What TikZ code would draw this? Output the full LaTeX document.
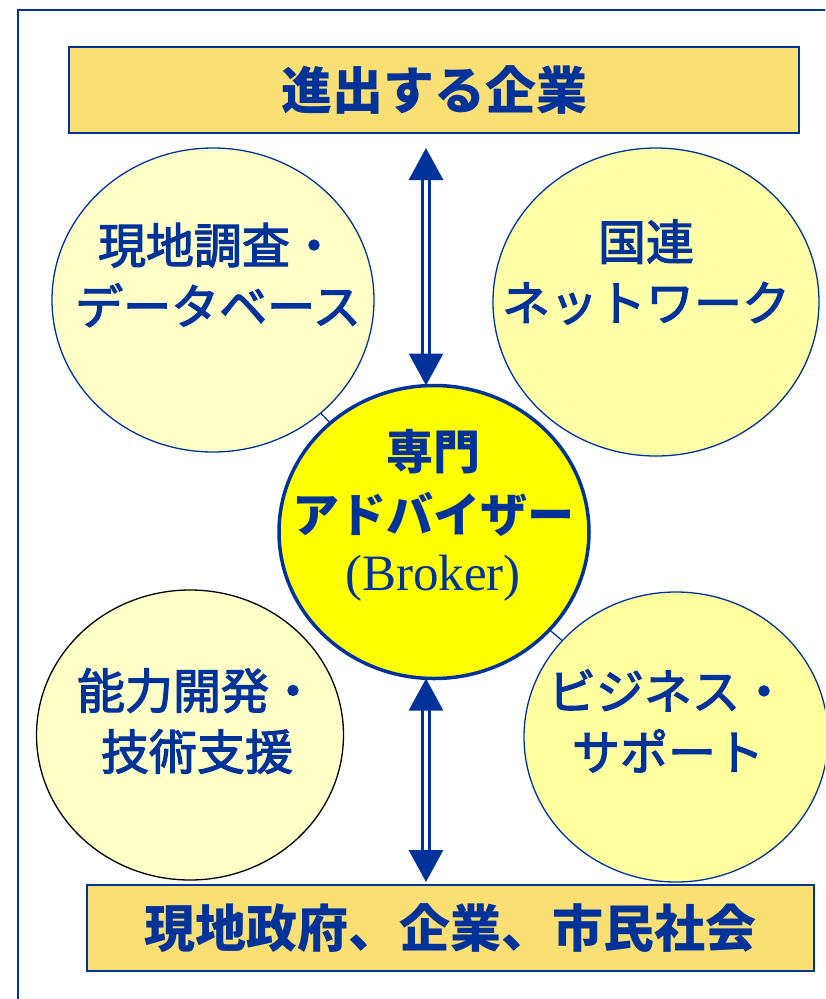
\documentclass[tikz,border=0pt]{standalone}
\usepackage{fontspec}
\setmainfont{Liberation Serif}
\newfontfamily\jp{Noto Sans CJK JP}
\newfontfamily\jpm[FakeBold=2.5]{Noto Sans CJK JP}
\usetikzlibrary{shapes.geometric,arrows.meta,calc}
\definecolor{nblue}{RGB}{0,51,153}
\definecolor{gold}{RGB}{250,223,116}
\definecolor{pale}{RGB}{255,255,200}
\definecolor{lemon}{RGB}{255,255,160}
\definecolor{yel}{RGB}{255,255,0}
\begin{document}
\begin{tikzpicture}[x=1pt,y=-1pt,
  every node/.style={inner sep=0pt,outer sep=0pt},
  frame/.style={draw=nblue,line width=2pt},
  bar/.style={rectangle,draw=nblue,line width=2.5pt,fill=gold},
  bubble/.style={ellipse,draw=nblue,line width=1.3pt},
  hub/.style={ellipse,draw=nblue,line width=3.5pt,fill=yel},
  jtxt/.style={text=nblue,align=center,font=\jpm\fontsize{48}{61}\selectfont},
  htxt/.style={text=nblue,align=center,font=\jp\bfseries\fontsize{47}{63}\selectfont},
  btxt/.style={text=nblue,font=\jp\bfseries\fontsize{51}{60}\selectfont},
  dblarrow/.style={draw=nblue,double=white,line width=3pt,double distance=4.5pt,
    {Triangle[width=34pt,length=32pt]}-{Triangle[width=34pt,length=32pt]}},
  tie/.style={draw=nblue,line width=1.3pt}]
\useasboundingbox (0,0) rectangle (825,999);
\clip (0,0) rectangle (825,999);
\fill[white] (0,0) rectangle (825,999);
\draw[frame] (18,10) rectangle (845,1015);
% boxes
\node[bar,minimum width=730pt,minimum height=86pt] (top) at (434,90) {};
\node[btxt] (toptxt) at (434,90) {進出する企業};
\node[bar,minimum width=727pt,minimum height=86pt] (bot) at (450.5,928) {};
\node[btxt] (bottxt) at (450,928) {現地政府、企業、市民社会};
% circles
\node[bubble,fill=pale,minimum width=322pt,minimum height=304pt] (tl) at (213,300) {};
\node[bubble,fill=lemon!80!pale,minimum width=326pt,minimum height=308pt] (tr) at (656,302) {};
\node[hub,minimum width=310pt,minimum height=293pt] (ctr) at (434,532) {};
\node[bubble,draw=black,fill=pale,minimum width=307pt,minimum height=290pt] (bl) at (190,735) {};
\node[bubble,fill=lemon,minimum width=304pt,minimum height=290pt] (br) at (676,737) {};
% ties
\draw[tie] (tl) -- (ctr);
\draw[tie] (ctr) -- (br);
% texts
\node[jtxt] (tlt) at (218,275) {現地調査・\\データベース};
\node[jtxt] (trt) at (646,272) {国連\\ネットワーク};
\node[htxt] (ct1) at (433,483) {専門\\アドバイザー};
\node[text=nblue,font=\fontsize{51}{60}\selectfont] (ct2) at (433,578) {(Broker)};
\node[jtxt] (blt) at (197,721) {能力開発・\\技術支援};
\node[jtxt] (brt) at (668,721) {ビジネス・\\サポート};
% arrows
\coordinate (ax) at ([xshift=-8pt]ctr.south);
\draw[dblarrow] ([xshift=-8pt,yshift=-15pt]top.south) -- ([xshift=-8pt]ctr.north);
\draw[dblarrow] (ax) -- ($(ax |- bot.north)+(0,-3)$);
\end{tikzpicture}
\end{document}
